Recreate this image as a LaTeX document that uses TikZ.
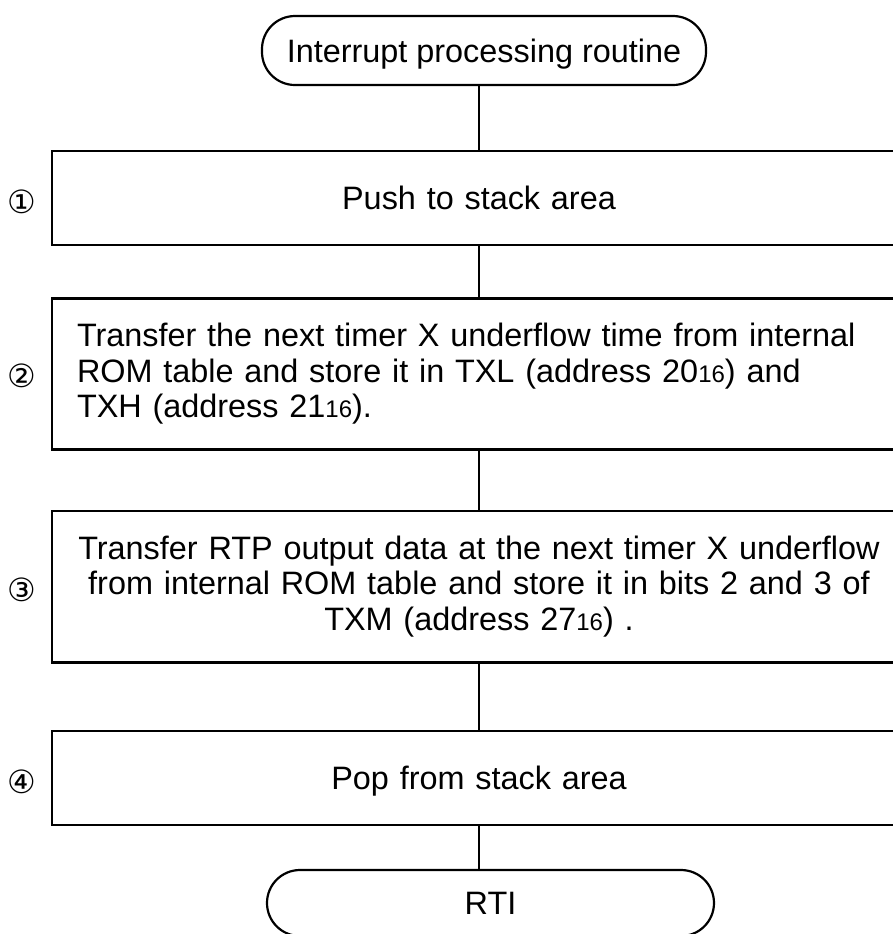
\documentclass[tikz,border=0pt]{standalone}
\usepackage{fontspec}
\setmainfont{Liberation Sans}
\newfontfamily\circfont{DejaVu Sans}
\newcommand{\hexsub}[1]{{\fontsize{12}{12}\selectfont #1}}
\usetikzlibrary{positioning}

\begin{document}
\begin{tikzpicture}[x=0.5pt,y=-0.5pt,
    every node/.style={font=\fontsize{16.2}{17.8}\selectfont},
    stepbox/.style={draw,line width=1.3pt,minimum width=427pt,text width=402pt,inner sep=12.5pt},
    endbox/.style={draw,line width=1.1pt,rounded corners=16.5pt,inner sep=0pt,text depth=0pt},
    mark num/.style={font=\circfont\fontsize{16}{16}\selectfont},
    link/.style={line width=1.1pt}]
        % Cadre de l'image : les boites depassent a droite
        \useasboundingbox (0,0) rectangle (893,934);

        % Debut et fin de la routine
        \node[endbox,minimum width=222pt,minimum height=34.5pt] (start) at (484,50.5) {Interrupt processing routine};
        \node[endbox,minimum width=223.5pt,minimum height=33pt] (rti) at (490.5,903) {RTI};

        % Les quatre etapes
        \node[stepbox,minimum height=47pt,align=center,text depth=0pt] (push) at (479,198) {Push to stack area};
        \node[stepbox,minimum height=70pt,align=left] (rom) at (479,374)
            {Transfer the next timer X underflow time from internal\\ROM table and store it in TXL (address 20\hexsub{16}) and\\TXH (address 21\hexsub{16}).};
        \node[stepbox,minimum height=70.5pt,align=center] (rtp) at (479,586.5)
            {Transfer RTP output data at the next timer X underflow\\from internal ROM table and store it in bits 2 and 3 of\\TXM (address 27\hexsub{16}) .};
        \node[stepbox,minimum height=47pt,align=center,text depth=0pt] (pop) at (479,778) {Pop from stack area};

        % Numeros des etapes
        \node[mark num] (n1) at (22,202) {①};
        \node[mark num] (n2) at (22,376) {②};
        \node[mark num] (n3) at (22,590) {③};
        \node[mark num] (n4) at (22,782) {④};

        % Liaisons verticales
        \draw[link] (start.south -| push.north) -- (push.north);
        \draw[link] (push) -- (rom);
        \draw[link] (rom) -- (rtp);
        \draw[link] (rtp) -- (pop);
        \draw[link] (pop.south) -- (rti.north -| pop.south);
\end{tikzpicture}
\end{document}
